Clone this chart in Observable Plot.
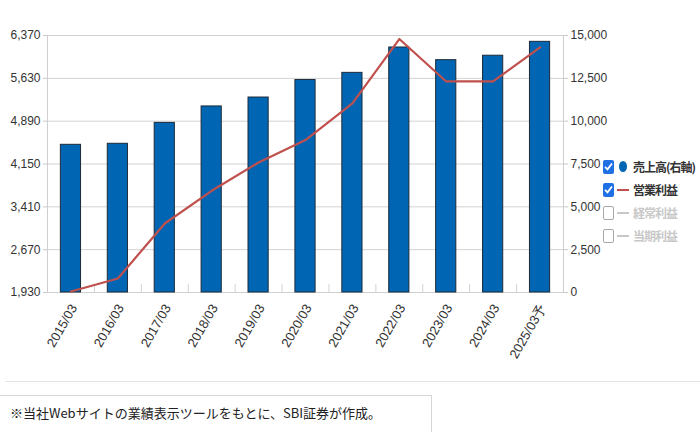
<!DOCTYPE html>
<html><head><meta charset="utf-8">
<script src="https://cdn.jsdelivr.net/npm/d3@7"></script>
<script src="https://cdn.jsdelivr.net/npm/@observablehq/plot@0.6"></script>
<style>
html,body{margin:0;padding:0;background:#fff;}
body{width:700px;height:432px;position:relative;overflow:hidden;font-family:"Noto Sans CJK JP","Noto Sans",sans-serif;}
#chart{position:absolute;left:0;top:0;}
.legend{position:absolute;left:603px;top:155px;font-size:12px;line-height:1;}
.row{display:flex;align-items:center;height:23px;white-space:nowrap;}
.cb{width:11px;height:14px;border-radius:2px;box-sizing:border-box;display:flex;align-items:center;justify-content:center;flex:none;}
.cb.on{background:#1f6fe5;}
.cb.off{border:1.5px solid #a8a8a8;background:#fff;}
.sym{width:13px;display:flex;align-items:center;justify-content:center;margin-left:2px;margin-right:4px;flex:none;}
.dot{width:8px;height:11px;border-radius:50%;background:#0066b3;}
.dash{width:12px;height:2px;}
.lab{color:#333;font-weight:700;letter-spacing:-1px;}
.lab.dim{color:#c8c8c8;}
.sep{position:absolute;left:5px;right:0;top:381px;border-top:1px solid #e4e4e4;}
.caption{position:absolute;left:-1px;top:395px;width:433px;height:45px;border:1px solid #d6d6d6;box-sizing:border-box;font-size:13px;color:#222;padding-left:10px;padding-top:7px;}
</style>
</head><body>
<div id="chart"></div>
<div class="legend" id="legend"></div>
<div class="sep"></div>
<div class="caption">※当社Webサイトの業績表示ツールをもとに、SBI証券が作成。</div>
<script>
const categories = ["2015/03","2016/03","2017/03","2018/03","2019/03","2020/03","2021/03","2022/03","2023/03","2024/03","2025/03予"];
// 売上高 (right axis)
const sales = [8620, 8680, 9900, 10860, 11380, 12400, 12820, 14300, 13560, 13820, 14630];
// 営業利益 (left axis)
const operatingProfit = [1947, 2172, 3122, 3687, 4176, 4563, 5196, 6309, 5576, 5576, 6164];
const leftTicks = [1930, 2670, 3410, 4150, 4890, 5630, 6370];
const rightTicks = [0, 2500, 5000, 7500, 10000, 12500, 15000];
const legendItems = [
  {label:"売上高(右軸)", on:true, kind:"dot", color:"#0066b3"},
  {label:"営業利益", on:true, kind:"dash", color:"#c0504d"},
  {label:"経常利益", on:false, kind:"dash", color:"#c8c8c8"},
  {label:"当期利益", on:false, kind:"dash", color:"#c8c8c8"}
];

const leftToRight = d3.scaleLinear().domain([1930, 6370]).range([0, 15000]);
const data = categories.map((c, i) => ({cat: c, sales: sales[i], op: leftToRight(operatingProfit[i])}));

const W = 700, H = 375, mL = 47, mR = 137, mT = 35, mB = H - 292;
const step = (W - mL - mR) / categories.length;
const numFont = "'Liberation Sans Narrow','Arial Narrow','Liberation Sans',Arial,sans-serif";

const chart = Plot.plot({
  width: W, height: H,
  marginLeft: mL, marginRight: mR, marginTop: mT, marginBottom: mB,
  style: {fontFamily: numFont, fontSize: "12px", color: "#333", background: "#fff"},
  x: {domain: categories, paddingInner: 0.57, paddingOuter: 0.285, round: false, label: null},
  y: {domain: [0, 15000], label: null},
  marks: [
    Plot.gridY(rightTicks, {stroke: "#d2d2d2", strokeOpacity: 1}),
    Plot.frame({stroke: "#cfcfcf"}),
    Plot.ruleX(categories.slice(1), {x: d => d, y1: 0, y2: 470, dx: -step / 2, stroke: "#d2d2d2"}),
    Plot.barY(data, {x: "cat", y: "sales", fill: "#0066b3", stroke: "#1d2a38", strokeWidth: 1}),
    Plot.lineY(data, {x: "cat", y: "op", stroke: "#c0504d", strokeWidth: 2.2}),
    Plot.axisY(leftTicks.map(v => leftToRight(v)), {
      anchor: "left", label: null, tickSize: 4, tickPadding: 3, stroke: "#c8c8c8", fill: "#333",
      tickFormat: d => d3.format(",")(Math.round(leftToRight.invert(d)))
    }),
    Plot.axisY(rightTicks, {anchor: "right", label: null, tickSize: 4, tickPadding: 3, stroke: "#c8c8c8", fill: "#333", tickFormat: d3.format(",")}),
    Plot.axisX({tickRotate: -60, tickSize: 0, tickPadding: 13, dx: 3, label: null, fill: "#333", fontSize: 13, fontFamily: "'Liberation Sans',Arial,sans-serif"})
  ]
});
document.getElementById("chart").appendChild(chart);

const lg = document.getElementById("legend");
for (const it of legendItems) {
  const row = document.createElement("div");
  row.className = "row";
  const cb = document.createElement("div");
  cb.className = "cb " + (it.on ? "on" : "off");
  if (it.on) cb.innerHTML = '<svg width="9" height="9" viewBox="0 0 9 9"><path d="M1 4.8 L3.5 7.3 L8 1.5" fill="none" stroke="#fff" stroke-width="1.8"/></svg>';
  row.appendChild(cb);
  const sym = document.createElement("div");
  sym.className = "sym";
  const s = document.createElement("div");
  s.className = it.kind;
  s.style.background = it.color;
  sym.appendChild(s);
  row.appendChild(sym);
  const lab = document.createElement("span");
  lab.className = "lab" + (it.on ? "" : " dim");
  lab.textContent = it.label;
  row.appendChild(lab);
  lg.appendChild(row);
}
</script>
</body></html>
